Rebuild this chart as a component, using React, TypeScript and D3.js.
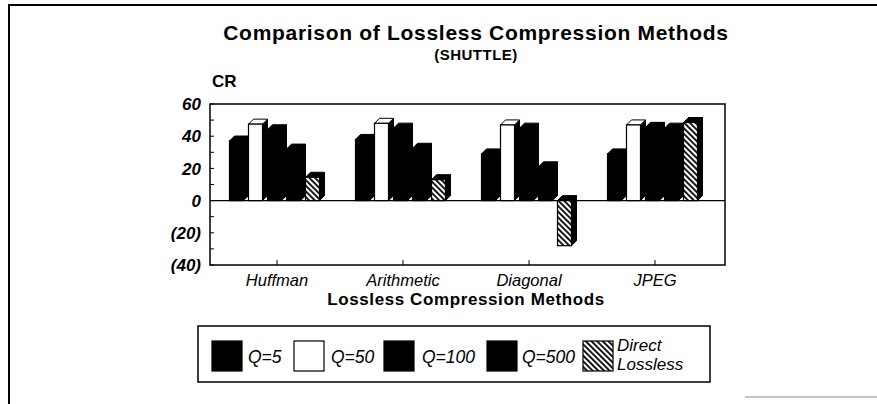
import React from 'react';
import * as d3 from 'd3';

// Data (CR values at the front face of each 3D bar)
const methods = ['Huffman', 'Arithmetic', 'Diagonal', 'JPEG'];
const seriesNames = ['Q=5', 'Q=50', 'Q=100', 'Q=500', 'Direct Lossless'];
const q5 = [37, 38, 29, 29];
const q50 = [47.5, 48, 47, 47];
const q100 = [44, 45, 45, 45.5];
const q500 = [32, 32.5, 21, 45];
const direct = [14.5, 13, -28, 48.5];
const yTicks = [60, 40, 20, 0, -20, -40];

const W = 877;
const H = 404;
const FONT = '"Liberation Sans", Arial, Helvetica, sans-serif';

const seriesValues = [q5, q50, q100, q500, direct];
const seriesFill = ['#000', '#fff', '#000', '#000', 'url(#hatch)'];

function fmtTick(v: number) {
    return v < 0 ? `(${Math.abs(v)})` : `${v}`;
}

function Bar({ x, v, fw, d, fill, y }: any) {
    const y0 = y(0);
    const y1 = y(v);
    const top = Math.min(y0, y1);
    const bot = Math.max(y0, y1);
    const white = fill === '#fff';
    const side = `${x + fw},${top} ${x + fw + d},${top - d} ${x + fw + d},${bot - d} ${x + fw},${bot}`;
    const cap = `${x},${top} ${x + d},${top - d} ${x + fw + d},${top - d} ${x + fw},${top}`;
    return (
        <g>
            <polygon points={side} fill="#000" stroke="#000" strokeWidth={1} />
            <polygon points={cap} fill={white ? '#fff' : '#000'} stroke="#000" strokeWidth={1} />
            <rect x={x} y={top} width={fw} height={bot - top} fill={fill} stroke="#000" strokeWidth={1.2} />
        </g>
    );
}

export default function App() {
    const y = d3.scaleLinear().domain([-40, 60]).range([265, 104]);
    const x = d3.scaleBand<string>().domain(methods).range([214, 718]);
    const groupW = 95;
    const xs = d3.scaleBand<number>().domain(d3.range(seriesNames.length)).range([0, groupW]);
    const depth = 5;
    const fw = xs.bandwidth() - depth;

    const plotL = 210;
    const plotR = 725;
    const plotT = y(60);
    const plotB = y(-40);
    const minor = d3.range(-40, 61, 10);

    // legend layout
    const legendItems = [
        { sw: 212, tx: 248 },
        { sw: 294, tx: 331 },
        { sw: 384, tx: 422 },
        { sw: 487, tx: 522 },
        { sw: 583, tx: 617 },
    ];

    return (
        <svg width={W} height={H} style={{ display: 'block', position: 'absolute', left: 0, top: 0 }}>
            <defs>
                <pattern id="hatch" patternUnits="userSpaceOnUse" width={4} height={4} patternTransform="rotate(-45)">
                    <rect width={4} height={4} fill="#fff" />
                    <rect x={0} y={0} width={1.8} height={4} fill="#000" />
                </pattern>
            </defs>
            <rect width={W} height={H} fill="#fff" />

            {/* outer frame */}
            <line x1={8} x2={W} y1={5} y2={5} stroke="#000" strokeWidth={2} />
            <line x1={9} x2={9} y1={5} y2={H} stroke="#000" strokeWidth={2} />
            <line x1={745} x2={W} y1={397} y2={397} stroke="#888" strokeWidth={1} />

            {/* titles */}
            <text x={476} y={40} textAnchor="middle" fontFamily={FONT} fontWeight="bold" fontSize={21} letterSpacing={0.7}>
                Comparison of Lossless Compression Methods
            </text>
            <text x={476} y={60} textAnchor="middle" fontFamily={FONT} fontWeight="bold" fontSize={15} letterSpacing={0.5}>
                (SHUTTLE)
            </text>
            <text x={212} y={87} fontFamily={FONT} fontWeight="bold" fontSize={17}>CR</text>

            {/* plot frame */}
            <rect x={plotL} y={plotT} width={plotR - plotL} height={plotB - plotT} fill="none" stroke="#000" strokeWidth={1.5} />
            <line x1={plotL} x2={plotR} y1={y(0)} y2={y(0)} stroke="#000" strokeWidth={1.2} />

            {/* y ticks */}
            {minor.map(t => (
                <line key={t} x1={plotL} x2={plotL + 4} y1={y(t)} y2={y(t)} stroke="#000" strokeWidth={1} />
            ))}
            {yTicks.map(t => (
                <text key={t} x={201} y={y(t)} dy="0.36em" textAnchor="end" fontFamily={FONT}
                    fontWeight="bold" fontStyle="italic" fontSize={17}>
                    {fmtTick(t)}
                </text>
            ))}

            {/* bars */}
            {methods.map((m, i) => {
                const gx = x(m)! + x.bandwidth() / 2 - groupW / 2;
                return (
                    <g key={m}>
                        {seriesValues.map((vals, s) => (
                            <Bar key={s} x={gx + xs(s)!} v={vals[i]} fw={fw} d={depth} fill={seriesFill[s]} y={y} />
                        ))}
                    </g>
                );
            })}

            {/* x ticks and labels */}
            {methods.map(m => {
                const cx = x(m)! + x.bandwidth() / 2;
                return (
                    <g key={m}>
                        <line x1={cx} x2={cx} y1={plotB} y2={plotB - 5} stroke="#000" strokeWidth={1} />
                        <text x={cx} y={286} textAnchor="middle" fontFamily={FONT} fontStyle="italic" fontSize={16.5}>
                            {m}
                        </text>
                    </g>
                );
            })}
            <text x={466} y={305} textAnchor="middle" fontFamily={FONT} fontWeight="bold" fontSize={17} letterSpacing={0.6}>
                Lossless Compression Methods
            </text>

            {/* legend */}
            <rect x={198} y={326} width={512} height={56} fill="none" stroke="#000" strokeWidth={1.5} />
            {legendItems.map((it, s) => (
                <g key={s}>
                    <rect x={it.sw} y={341} width={30} height={30} fill={seriesFill[s]} stroke="#000" strokeWidth={1.2} />
                    {s < 4 ? (
                        <text x={it.tx} y={357} dy="0.36em" fontFamily={FONT} fontStyle="italic" fontSize={17.5}>
                            {seriesNames[s]}
                        </text>
                    ) : (
                        <text fontFamily={FONT} fontStyle="italic" fontSize={17}>
                            <tspan x={it.tx} y={351}>Direct</tspan>
                            <tspan x={it.tx} y={370}>Lossless</tspan>
                        </text>
                    )}
                </g>
            ))}
        </svg>
    );
}
